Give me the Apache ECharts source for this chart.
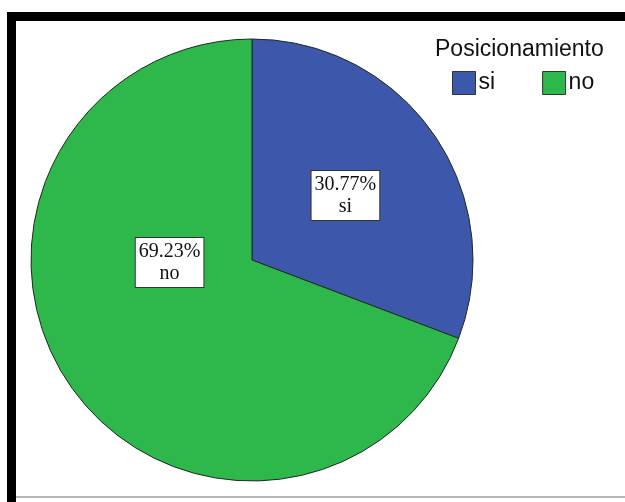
<!DOCTYPE html>
<html>
<head>
<meta charset="utf-8">
<script src="https://cdn.jsdelivr.net/npm/echarts@6/dist/echarts.min.js"></script>
<style>
  html, body { margin: 0; padding: 0; background: #ffffff; }
  #chart { width: 625px; height: 502px; }
</style>
</head>
<body>
<div id="chart"></div>
<script>
// Response counts per category
const categories = ['si', 'no'];
const counts = [4, 9];
const legendTitle = 'Posicionamiento';
const sliceColors = ['#3d57aa', '#2eb84c'];

const chart = echarts.init(document.getElementById('chart'));

const labelBase = {
  show: true,
  position: 'inside',
  formatter: p => p.percent.toFixed(2) + '%\n' + p.name,
  fontFamily: 'Liberation Serif',
  fontSize: 20,
  lineHeight: 22,
  color: '#111',
  backgroundColor: '#ffffff',
  borderColor: '#333',
  borderWidth: 1,
  padding: [3, 3, 2, 3],
  align: 'center'
};

const data = categories.map((name, i) => {
  const item = { name, value: counts[i], itemStyle: { color: sliceColors[i] } };
  if (name === 'no') {
    item.label = { offset: [11, -62] };
  }
  return item;
});

chart.setOption({
  animation: false,
  title: {
    text: legendTitle,
    left: 430,
    top: 33,
    textStyle: { fontFamily: 'Liberation Sans', fontSize: 23, fontWeight: 'normal', color: '#111' }
  },
  legend: {
    data: categories,
    left: 447,
    top: 66,
    icon: 'rect',
    itemWidth: 23,
    itemHeight: 23,
    itemGap: 47,
    itemStyle: { borderColor: '#333', borderWidth: 1 },
    textStyle: { fontFamily: 'Liberation Sans', fontSize: 23, color: '#111', padding: [0, 0, 0, -2] }
  },
  graphic: [
    { type: 'rect', shape: { x: 7, y: 12, width: 618, height: 9 }, style: { fill: '#000' } },
    { type: 'rect', shape: { x: 7, y: 12, width: 9, height: 490 }, style: { fill: '#000' } },
    { type: 'rect', shape: { x: 16, y: 496, width: 609, height: 2 }, style: { fill: '#b4b4b4' } }
  ],
  series: [{
    type: 'pie',
    center: [252, 260],
    radius: [0, 221],
    startAngle: 90,
    clockwise: true,
    avoidLabelOverlap: false,
    percentPrecision: 2,
    label: labelBase,
    labelLine: { show: false },
    itemStyle: { borderColor: '#1f2a22', borderWidth: 1 },
    emphasis: { disabled: true },
    data: data
  }]
});
</script>
</body>
</html>
